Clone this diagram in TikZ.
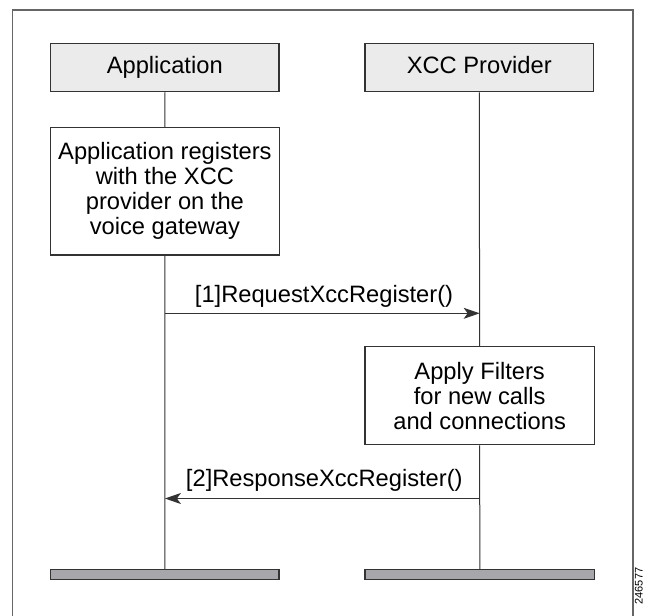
\documentclass[tikz,border=0pt]{standalone}
\usepackage{fontspec}
\setmainfont{Liberation Sans}
\usetikzlibrary{arrows.meta}
\definecolor{hdrfill}{HTML}{EBEBEB}
\definecolor{barfill}{HTML}{A7A7AB}
\definecolor{framegray}{HTML}{666666}
\definecolor{linegray}{HTML}{333333}
\begin{document}
\begin{tikzpicture}[x=1pt,y=-1pt,
  every node/.style={inner sep=0pt},
  txt/.style={font=\fontsize{23.7}{25}\selectfont, align=center},
  hdr/.style={draw=linegray, line width=1.1pt, fill=hdrfill, txt, text height=17pt, text depth=5pt},
  actbox/.style={draw=linegray, line width=1.1pt, fill=white, txt},
  bar/.style={draw=linegray, line width=1.1pt, fill=barfill},
  life/.style={draw=linegray, line width=1pt},
  msg/.style={draw=linegray, line width=1pt, -{Stealth[length=16pt,width=11pt,inset=4pt]}},
  lbl/.style={font=\fontsize{23.7}{25}\selectfont, anchor=base}
]
\useasboundingbox (0,0) rectangle (646,616);
% frame
\draw[framegray, line width=1.3pt] (12.7,630) -- (12.7,10) -- (633,10) -- (633,630);

% headers
\node[hdr, minimum width=228.5pt, minimum height=48.4pt] (apphdr) at (164.75,67.5) {Application};
\node[hdr, minimum width=228.5pt, minimum height=48.4pt] (xcchdr) at (479.25,67.5) {XCC Provider};

% activity boxes
\node[actbox, minimum width=228.8pt, minimum height=127.3pt] (appreg) at (164.9,191.35)
  {Application registers\\with the XCC\\provider on the\\voice gateway};
\node[actbox, minimum width=229.3pt, minimum height=98pt] (apply) at (479.65,395.7)
  {Apply Filters\\for new calls\\and connections};

% bottom bars
\node[bar, minimum width=228.3pt, minimum height=10pt] (appbar) at (164.85,574.7) {};
\node[bar, minimum width=229.7pt, minimum height=10pt] (xccbar) at (479.85,574.7) {};

% lifelines
\draw[life] (apphdr.south) -- (appreg.north);
\draw[life] (appreg.south) -- (appbar.north);
\draw[life] (xcchdr.south) -- (apply.north);
\draw[life] (apply.south) -- (xccbar.north);

% messages
\coordinate (a1) at (164.9,313.3);
\coordinate (b1) at (479.65,313.3);
\coordinate (a2) at (164.9,498.5);
\coordinate (b2) at (479.65,498.5);
\draw[msg] (a1) -- (b1);
\draw[msg] (b2) -- (a2);
\node[lbl] (l1) at (324,302) {[1]RequestXccRegister()};
\node[lbl] (l2) at (324.3,486.7) {[2]ResponseXccRegister()};

% figure number
\node[font=\fontsize{11}{11}\selectfont, rotate=90, anchor=south, inner sep=0.5pt] (fig) at (643.5,586) {246577};
\end{tikzpicture}
\end{document}
